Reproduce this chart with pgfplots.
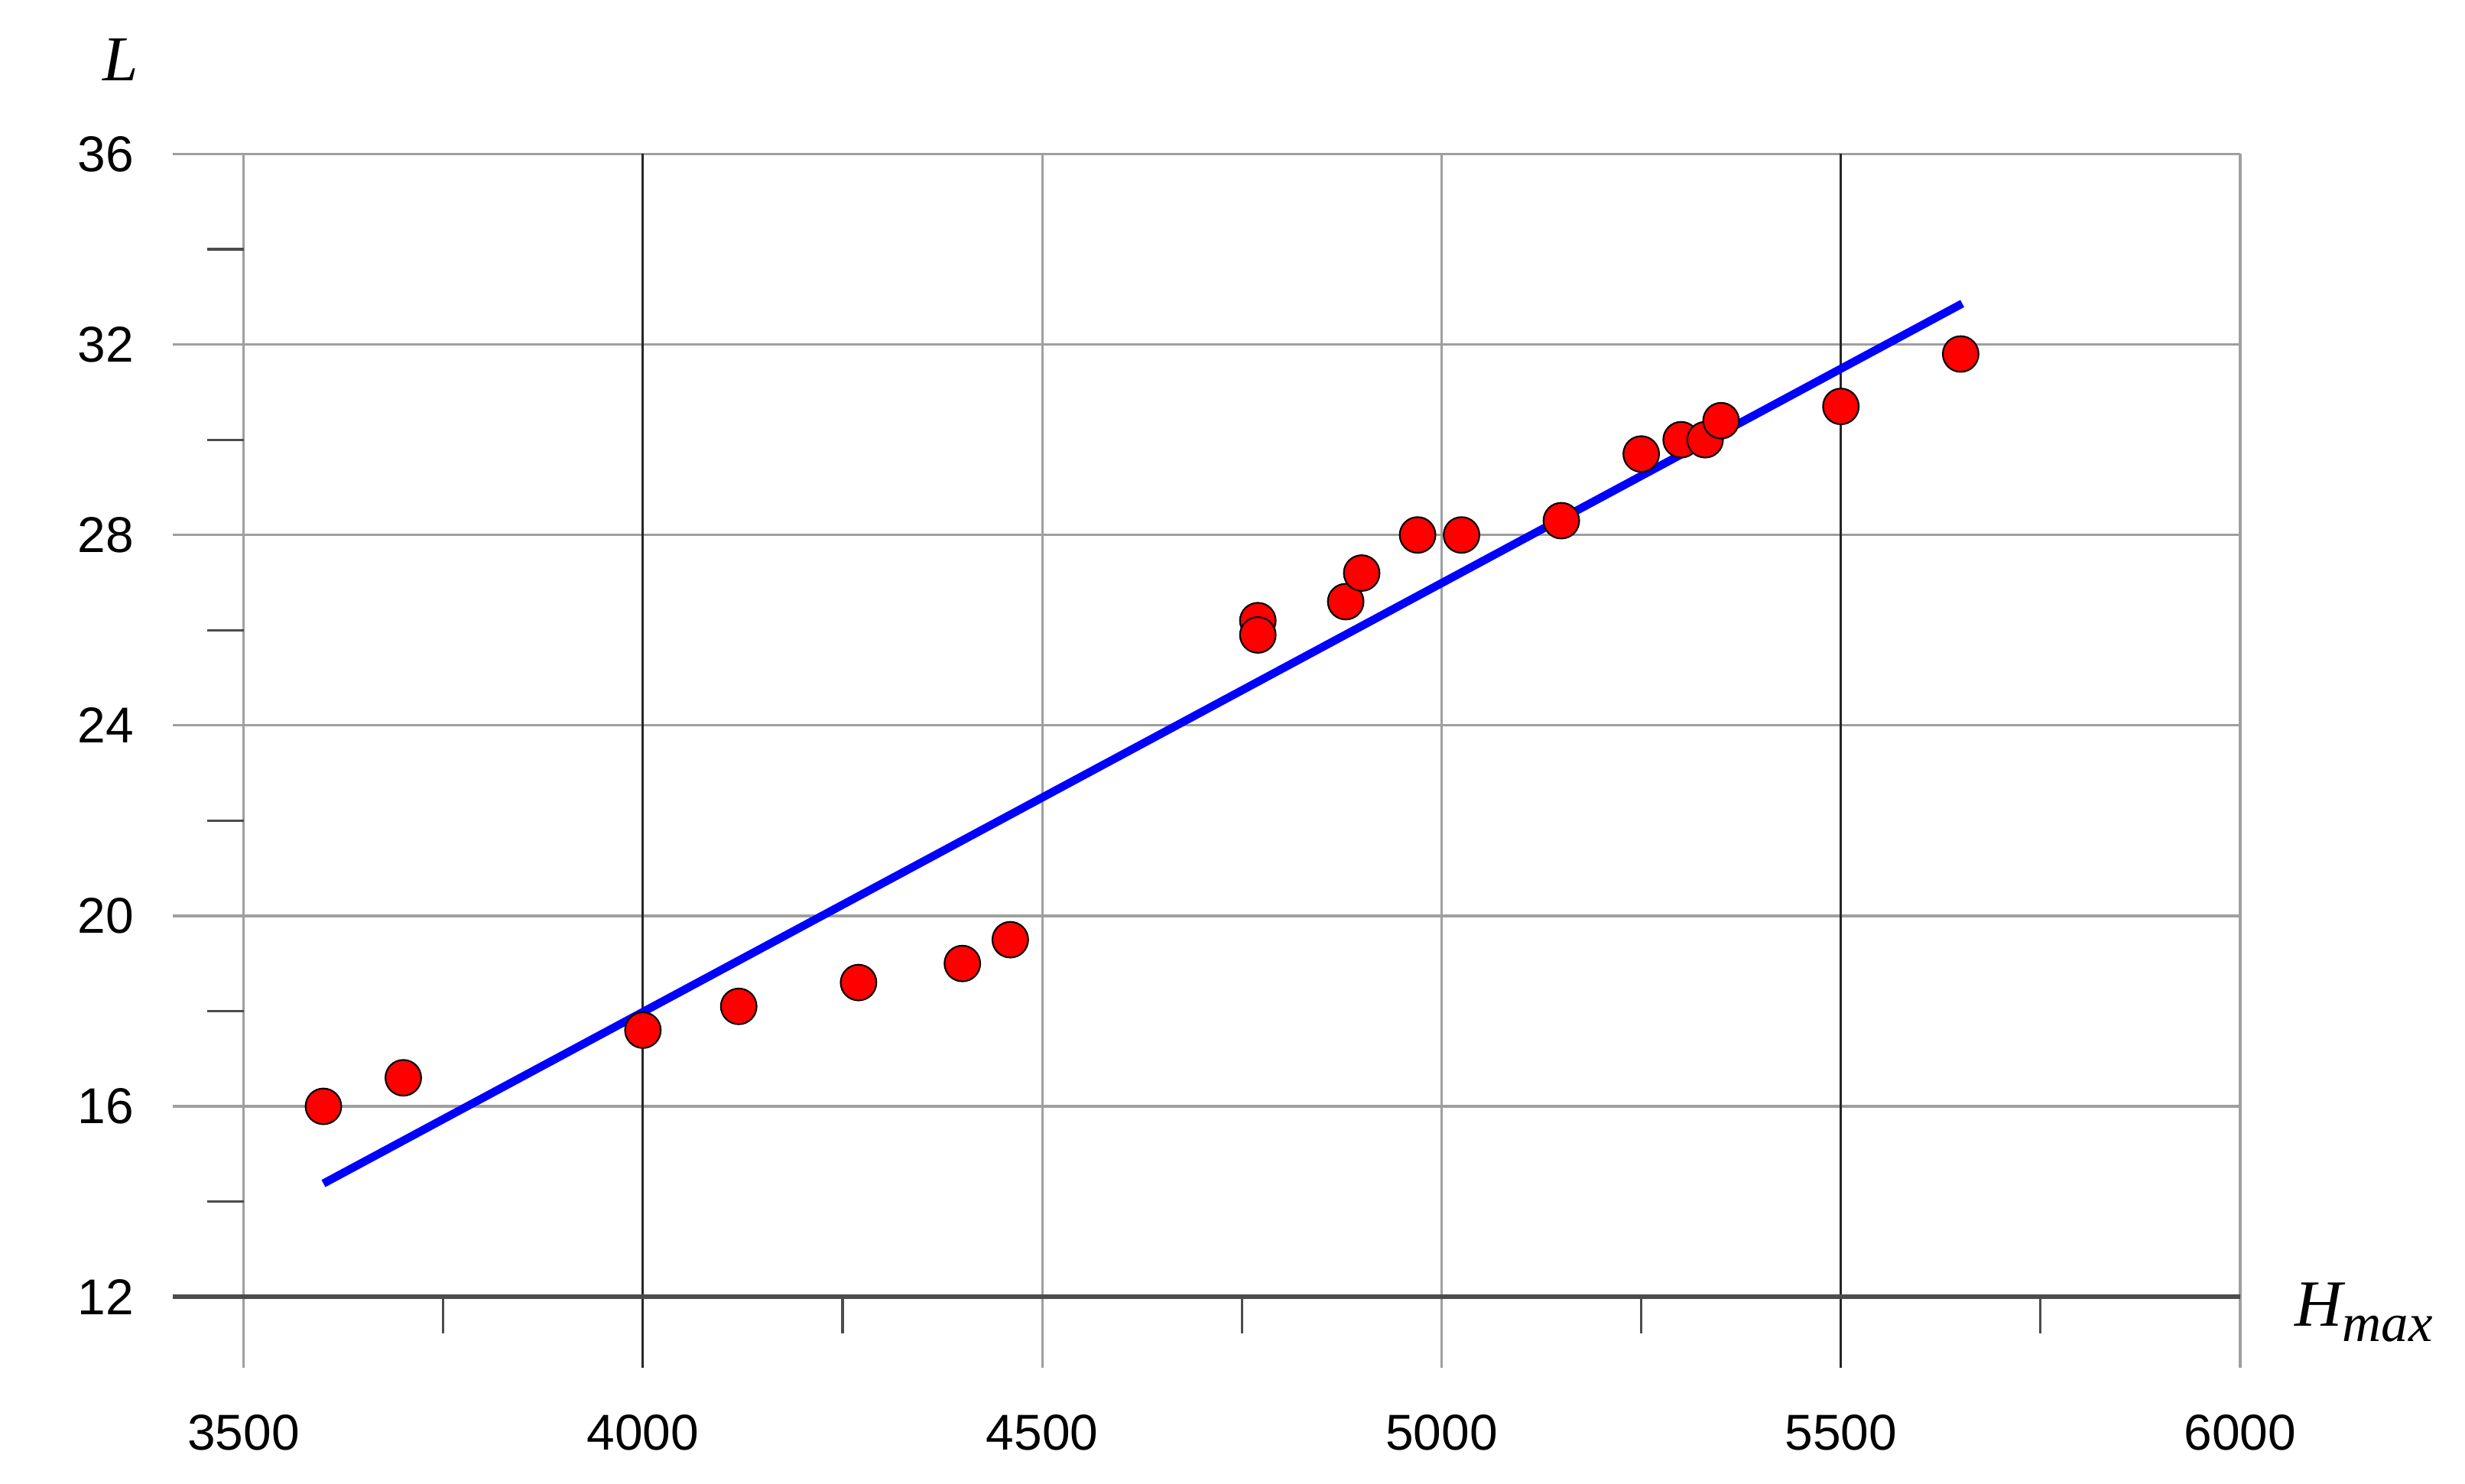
\documentclass[border=0pt]{standalone}
\usepackage{pgfplots}
\pgfplotsset{compat=1.18}
\usepackage{fontspec}
\setmainfont{Liberation Sans}
\newfontfamily\serifit{Liberation Serif}
\begin{document}
\begin{tikzpicture}
\begin{axis}[
  scale only axis, width=12.96cm, height=7.418cm,
  xmin=3500, xmax=6000, ymin=12, ymax=36,
  axis x line*=bottom, axis y line*=left,
  axis line style={draw=none},
  xtick={3500,4000,...,6000},
  ytick={12,16,...,36},
  minor x tick num=1, minor y tick num=1,
  extra x ticks={4000,5500}, extra x tick labels={},
  extra y ticks={12}, extra y tick labels={},
  extra x tick style={major grid style={black!85, line width=0.45pt}, major tick style={black!85, line width=0.45pt}},
  extra y tick style={major grid style={black!70, line width=0.8pt}, major tick style={black!70, line width=0.8pt}},
  grid=major,
  major grid style={gray!75, line width=0.45pt},
  tick align=outside, tickpos=left,
  major tick length=0.459cm, minor tick length=0.235cm,
  major tick style={gray!75, line width=0.45pt},
  minor tick style={black!70, line width=0.45pt},
  /pgf/number format/assume math mode=true,
  /pgf/number format/1000 sep={},
  ticklabel style={font=\fontsize{9.3}{11}\selectfont, black},
  xticklabel style={yshift=-0.184cm},
  yticklabel style={xshift=-0.13cm},
  clip=false,
]
\path (rel axis cs:-0.122,-0.1637) rectangle (rel axis cs:1.1126,1.1348);
\addplot[only marks, mark=*, mark size=3.3pt, mark options={fill=red, draw=black, line width=0.3pt}] coordinates {
(3600,16.0) (3700,16.6) (4000,17.6) (4120,18.1) (4270,18.6) (4400,19.0) (4460,19.5)
(4770,26.2) (4770,25.9) (4880,26.6) (4900,27.2) (4970,28.0) (5025,28.0) (5150,28.3)
(5250,29.7) (5300,30.0) (5330,30.0) (5350,30.4) (5500,30.7) (5650,31.8)
};
\addplot[blue, line width=1.5pt] coordinates {(3600,14.38) (5652,32.86)};
\node[anchor=center, font=\serifit\itshape\fontsize{11.8}{14}\selectfont] at (rel axis cs:-0.0614,1.0826) {L};
\node[anchor=base west, inner sep=0pt] at (rel axis cs:1.0268,-0.0253) {{\serifit\itshape\fontsize{12.2}{14}\selectfont H}\raisebox{-2.9pt}{\serifit\itshape\fontsize{10}{12}\selectfont max}};
\end{axis}
\end{tikzpicture}
\end{document}
